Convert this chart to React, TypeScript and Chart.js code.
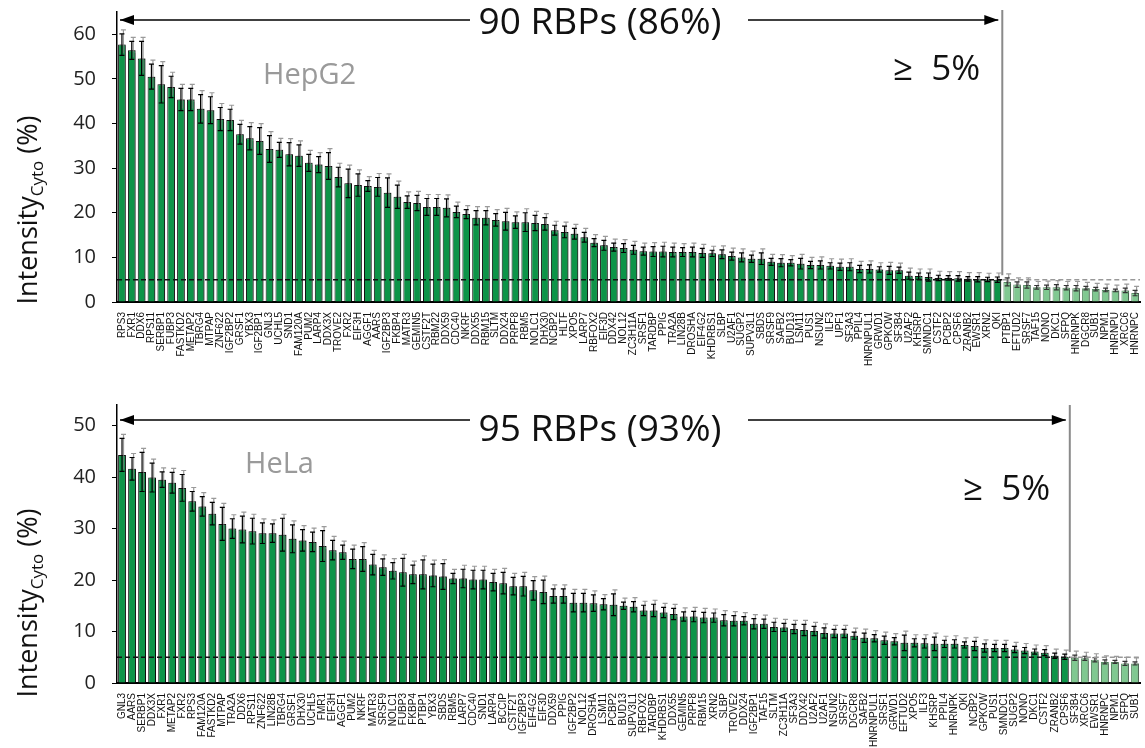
import React, { useEffect, useRef } from "react";
import { Chart, registerables } from "chart.js";
Chart.register(...registerables);

// ---------------- DATA ----------------
const hepg2Labels = [
  "RPS3","FXR1","DDX6","RPS11","SERBP1","FUBP3","FASTKD2","METAP2","TBRG4","MTPAP",
  "ZNF622","IGF2BP2","GRSF1","YBX3","IGF2BP1","GNL3","UCHL5","SND1","FAM120A","PUM2",
  "LARP4","DDX3X","TROVE2","FXR2","EIF3H","AGGF1","AARS","IGF2BP3","FKBP4","MATR3",
  "GEMIN5","CSTF2T","RBM22","DDX59","CDC40","NKRF","DDX55","RBM15","SLTM","DDX24",
  "PRPF8","RBM5","NOLC1","DHX30","NCBP2","HLTF","XPO5","LARP7","RBFOX2","EIF3D",
  "DDX42","NOL12","ZC3H11A","SRSF1","TARDBP","PPIG","TRA2A","LIN28B","DROSHA","EIF4G2",
  "KHDRBS1","SLBP","U2AF1","SUGP2","SUPV3L1","SBDS","SRSF9","SAFB2","BUD13","LSM11",
  "PUS1","NSUN2","ILF3","UPF1","SF3A3","PPIL4","HNRNPUL1","GRWD1","GPKOW","SF3B4",
  "U2AF2","KHSRP","SMNDC1","CSTF2","PCBP2","CPSF6","ZRANB2","EWSR1","XRN2","QKI",
  "PTBP1","EFTUD2","SRSF7","TAF15","NONO","DKC1","SFPQ","HNRNPK","DGCR8","SUB1",
  "NPM1","HNRNPU","XRCC6","HNRNPC"
];
const hepg2Values = [
  57.7,56.4,54.6,50.5,48.8,48.2,45.4,45.4,43.3,43.0,
  41.0,40.8,37.6,36.7,36.1,34.3,34.1,33.1,32.8,31.2,
  30.8,30.5,28.0,26.6,26.2,26.0,25.8,24.5,23.6,22.4,
  22.2,21.3,21.3,21.1,20.2,19.7,18.9,18.9,18.4,18.1,
  17.9,17.9,17.7,17.5,16.1,15.7,15.3,14.5,13.3,12.7,
  12.3,12.1,11.7,11.4,11.3,11.3,11.2,11.2,11.2,11.0,
  10.9,10.7,10.3,10.0,9.7,9.7,9.0,8.8,8.8,8.6,
  8.3,8.3,8.1,7.9,7.9,7.4,7.4,7.3,7.1,7.1,
  5.9,5.8,5.6,5.4,5.4,5.3,5.2,5.1,5.05,5.0,
  4.5,3.9,3.8,3.3,3.3,3.3,3.2,3.1,3.1,2.9,
  2.7,2.6,2.6,2.0
];
const hepg2Errors = [
  2.4,2.0,3.8,2.8,4.2,2.4,2.5,2.5,3.2,3.0,
  2.6,2.4,2.2,2.6,3.0,3.0,1.7,2.6,2.4,1.9,
  1.8,3.0,2.2,3.2,2.5,1.2,2.1,3.3,2.6,1.4,
  1.7,1.9,1.9,2.0,1.3,1.0,1.6,1.6,1.4,2.0,
  1.4,2.1,1.7,1.4,1.1,1.3,1.2,1.1,0.9,1.1,
  0.9,1.0,1.0,0.9,1.1,1.2,1.1,1.0,1.1,1.0,
  0.7,1.0,0.9,1.0,0.8,1.3,0.8,0.9,0.7,1.2,
  0.8,0.9,0.7,0.8,0.9,0.8,0.9,0.6,0.9,0.7,
  0.8,0.7,0.9,0.6,0.5,0.6,0.5,0.6,0.5,0.6,
  0.9,0.6,0.7,0.4,0.5,0.6,0.5,0.6,0.4,0.4,
  0.4,0.3,0.5,0.6
];

const helaLabels = [
  "GNL3","AARS","SERBP1","DDX3X","FXR1","METAP2","FXR2","RPS3","FAM120A","FASTKD2",
  "MTPAP","TRA2A","DDX6","RPS11","ZNF622","LIN28B","TBRG4","GRSF1","DHX30","UCHL5",
  "FMR1","EIF3H","AGGF1","PUM2","NKRF","MATR3","SRSF9","NOLC1","FUBP3","FKBP4",
  "PTBP1","YBX3","SBDS","RBM5","LARP7","CDC40","SND1","LARP4","BCCIP","CSTF2T",
  "IGF2BP3","EIF4G2","EIF3D","DDX59","PPIG","IGF2BP2","NOL12","DROSHA","LSM11","PCBP2",
  "BUD13","SUPV3L1","RBFOX2","TARDBP","KHDRBS1","DDX55","GEMIN5","PRPF8","RBM15","XRN2",
  "SLBP","TROVE2","DDX24","IGF2BP1","TAF15","SLTM","ZC3H11A","SF3A3","DDX42","U2AF2",
  "U2AF1","NSUN2","SRSF7","DGCR8","SAFB2","HNRNPUL1","SRSF1","GRWD1","EFTUD2","XPO5",
  "ILF3","KHSRP","PPIL4","HNRNPK","QKI","NCBP2","GPKOW","PUS1","SMNDC1","SUGP2",
  "NONO","DKC1","CSTF2","ZRANB2","CPSF6","SF3B4","XRCC6","EWSR1","HNRNPC","NPM1",
  "SFPQ","SUB1"
];
const helaValues = [
  44.3,41.6,41.0,39.9,39.5,38.9,37.9,35.3,34.3,32.9,
  30.9,30.0,29.8,29.5,29.1,29.1,28.8,28.0,27.7,27.4,
  26.6,25.8,25.4,24.1,24.1,23.0,22.5,21.8,21.5,21.1,
  21.1,20.9,20.7,20.3,20.3,20.1,20.1,19.6,19.4,18.8,
  18.8,18.0,17.7,16.9,16.9,15.6,15.6,15.5,15.3,15.2,
  15.0,14.8,14.1,14.1,13.7,13.4,12.9,12.9,12.7,12.7,
  12.2,12.1,12.1,11.5,11.5,10.9,10.8,10.5,10.3,10.1,
  9.7,9.6,9.6,9.2,8.8,8.7,8.3,8.1,7.8,7.8,
  7.7,7.6,7.6,7.6,7.4,7.2,6.8,6.8,6.8,6.5,
  6.3,6.1,5.9,5.3,5.1,4.9,4.8,4.5,4.1,4.1,
  3.8,3.8
];
const helaErrors = [
  3.2,2.2,3.8,2.8,1.5,2.0,2.6,1.9,1.9,2.2,
  3.2,1.9,2.6,2.5,2.0,1.8,3.2,2.7,2.1,1.9,
  3.0,1.9,1.4,1.9,2.4,2.0,1.6,1.6,2.7,1.8,
  2.8,2.2,2.5,1.0,1.8,1.8,1.8,1.7,2.1,1.7,
  1.9,1.9,2.3,1.4,1.4,1.8,1.8,1.6,1.1,2.1,
  0.7,1.0,1.0,1.2,1.0,1.1,0.9,1.0,1.0,0.9,
  1.1,1.0,0.8,1.0,0.9,0.9,0.8,0.9,1.1,0.9,
  1.0,0.8,0.8,0.7,0.9,0.7,0.8,0.7,1.5,0.8,
  0.9,1.3,0.7,0.8,0.6,0.9,0.8,0.7,0.7,0.6,
  0.6,0.5,0.6,0.5,0.5,0.5,0.4,0.4,0.4,0.3,
  0.4,0.3
];

const hepg2Ticks = [0, 10, 20, 30, 40, 50, 60];
const helaTicks = [0, 10, 20, 30, 40, 50];
const threshold = 5;
const hepg2AboveCount = 90;
const helaAboveCount = 95;
const hepg2Summary = "90 RBPs (86%)";
const helaSummary = "95 RBPs (93%)";
const thresholdText = "\u2265  5%";

// ---------------- STYLE ----------------
const DARK = "#0d9448";
const LIGHT = "#80c891";
const BIG_FONT = "'Open Sans', 'Noto Sans', sans-serif";

type Panel = {
  labels: string[];
  values: number[];
  errors: number[];
  above: number;
  yMax: number;
  ticks: number[];
  cell: string;
  summary: string;
  padTop: number;
  xHeight: number;
  arrowY: number;
  textY: number;
  cellX: number;
  cellY: number;
  geX: number;
  geY: number;
  titleY: number;
  vTop: number;
};

function makeChart(canvas: HTMLCanvasElement, p: Panel) {
  const bg = p.values.map((_, i) => (i < p.above ? DARK : LIGHT));
  const bc = p.values.map((_, i) => (i < p.above ? "#111" : "#5b8a66"));

  const decor = {
    id: "decor",
    beforeDatasetsDraw(chart: any) {
      const ctx = chart.ctx;
      ctx.save();
      ctx.shadowColor = "rgba(0,0,0,0.38)";
      ctx.shadowOffsetX = 2;
      ctx.shadowOffsetY = -1;
      ctx.shadowBlur = 1;
    },
    afterDatasetsDraw(chart: any) {
      const ctx = chart.ctx;
      ctx.restore();
      const xs = chart.scales.x;
      const ys = chart.scales.y;
      const area = chart.chartArea;
      const meta = chart.getDatasetMeta(0);

      // error bars
      p.values.forEach((v, i) => {
        const el = meta.data[i];
        const x = el.x;
        const e = p.errors[i];
        const yTop = ys.getPixelForValue(v + e);
        const yBot = ys.getPixelForValue(v - e);
        const light = i >= p.above;
        ctx.save();
        ctx.strokeStyle = "rgba(120,120,120,0.75)";
        ctx.lineWidth = 1.2;
        ctx.beginPath();
        ctx.moveTo(x + 1.5, yBot - 2);
        ctx.lineTo(x + 1.5, yTop - 4);
        ctx.moveTo(x - 1, yTop - 4);
        ctx.lineTo(x + 4, yTop - 4);
        ctx.stroke();
        ctx.strokeStyle = light ? "#333" : "#000";
        ctx.lineWidth = 1.2;
        ctx.beginPath();
        ctx.moveTo(x, yBot);
        ctx.lineTo(x, yTop);
        ctx.moveTo(x - 2.5, yTop);
        ctx.lineTo(x + 2.5, yTop);
        ctx.moveTo(x - 2.5, yBot);
        ctx.lineTo(x + 2.5, yBot);
        ctx.stroke();
        ctx.restore();
      });

      const boundary =
        (xs.getPixelForValue(p.above - 1) + xs.getPixelForValue(p.above)) / 2;

      // dashed threshold line
      const yT = ys.getPixelForValue(threshold);
      ctx.save();
      ctx.setLineDash([5, 3]);
      ctx.lineWidth = 1.4;
      ctx.strokeStyle = "#111";
      ctx.beginPath();
      ctx.moveTo(area.left, yT);
      ctx.lineTo(boundary, yT);
      ctx.stroke();
      ctx.strokeStyle = "#999";
      ctx.beginPath();
      ctx.moveTo(boundary, yT);
      ctx.lineTo(area.right, yT);
      ctx.stroke();
      ctx.restore();

      // vertical separator
      ctx.save();
      ctx.strokeStyle = "#8a8a8a";
      ctx.lineWidth = 2;
      ctx.beginPath();
      ctx.moveTo(boundary, p.vTop);
      ctx.lineTo(boundary, ys.getPixelForValue(6));
      ctx.stroke();
      ctx.restore();

      // arrows
      const drawArrow = (x1: number, x2: number, tipLeft: boolean) => {
        ctx.save();
        ctx.strokeStyle = "#000";
        ctx.fillStyle = "#000";
        ctx.lineWidth = 1.6;
        ctx.beginPath();
        ctx.moveTo(x1, p.arrowY);
        ctx.lineTo(x2, p.arrowY);
        ctx.stroke();
        const tx = tipLeft ? x1 : x2;
        const d = tipLeft ? 1 : -1;
        ctx.beginPath();
        ctx.moveTo(tx, p.arrowY);
        ctx.lineTo(tx + d * 14, p.arrowY - 5);
        ctx.lineTo(tx + d * 14, p.arrowY + 5);
        ctx.closePath();
        ctx.fill();
        ctx.restore();
      };
      drawArrow(area.left + 3, 470, true);
      drawArrow(748, boundary - 4, false);

      ctx.save();
      ctx.fillStyle = "#111";
      ctx.font = `37px ${BIG_FONT}`;
      ctx.textAlign = "center";
      ctx.textBaseline = "middle";
      ctx.fillText(p.summary, 600, p.textY);
      ctx.textAlign = "left";
      ctx.font = `35px ${BIG_FONT}`;
      ctx.fillText(thresholdText, p.geX, p.geY);
      ctx.fillStyle = "#9a9a9a";
      ctx.font = `29px ${BIG_FONT}`;
      ctx.fillText(p.cell, p.cellX, p.cellY);
      ctx.restore();

      // y axis title with subscript
      ctx.save();
      ctx.translate(37, p.titleY);
      ctx.rotate(-Math.PI / 2);
      ctx.fillStyle = "#111";
      ctx.textBaseline = "alphabetic";
      ctx.textAlign = "left";
      const mainFont = `27px ${BIG_FONT}`;
      const subFont = `17px ${BIG_FONT}`;
      ctx.font = mainFont;
      const w1 = ctx.measureText("Intensity").width;
      const w3 = ctx.measureText(" (%)").width;
      ctx.font = subFont;
      const w2 = ctx.measureText("Cyto").width;
      let sx = -(w1 + w2 + w3) / 2;
      ctx.font = mainFont;
      ctx.fillText("Intensity", sx, 0);
      sx += w1;
      ctx.font = subFont;
      ctx.fillText("Cyto", sx, 6);
      sx += w2;
      ctx.font = mainFont;
      ctx.fillText(" (%)", sx, 0);
      ctx.restore();
    },
  };

  return new Chart(canvas, {
    type: "bar",
    data: {
      labels: p.labels,
      datasets: [
        {
          data: p.values,
          backgroundColor: bg,
          borderColor: bc,
          borderWidth: 1,
          barPercentage: 0.78,
          categoryPercentage: 1,
        },
      ],
    },
    options: {
      animation: false,
      responsive: false,
      maintainAspectRatio: false,
      layout: { padding: { left: 0, right: 5, top: p.padTop, bottom: 0 } },
      plugins: { legend: { display: false }, tooltip: { enabled: false } },
      scales: {
        x: {
          grid: { display: false },
          border: { display: true, color: "#000", width: 2 },
          ticks: {
            autoSkip: false,
            minRotation: 90,
            maxRotation: 90,
            padding: 2,
            color: "#111",
            font: { family: "'Liberation Sans', Arial, sans-serif", size: 10 },
          },
          afterFit: (s: any) => {
            s.height = p.xHeight;
            s.paddingLeft = 0;
            s.paddingRight = 0;
          },
        },
        y: {
          min: 0,
          max: p.yMax,
          grid: {
            display: true,
            drawOnChartArea: false,
            drawTicks: true,
            tickLength: 5,
            color: "#000",
          },
          border: { display: true, color: "#000", width: 1.5 },
          ticks: {
            padding: 16,
            color: "#222",
            font: { family: BIG_FONT, size: 20 },
          },
          afterBuildTicks: (s: any) => {
            s.ticks = p.ticks.map((v) => ({ value: v }));
          },
          afterFit: (s: any) => {
            s.width = 117;
            s.paddingTop = 0;
            s.paddingBottom = 0;
          },
        },
      },
    },
    plugins: [decor],
  } as any);
}

function PanelCanvas(props: { panel: Panel; top: number; height: number }) {
  const ref = useRef<HTMLCanvasElement>(null);
  useEffect(() => {
    if (!ref.current) return;
    const c = makeChart(ref.current, props.panel);
    return () => c.destroy();
  }, []);
  return (
    <canvas
      ref={ref}
      width={1145}
      height={props.height}
      style={{ position: "absolute", left: 0, top: props.top, width: 1145, height: props.height }}
    />
  );
}

const topPanel: Panel = {
  labels: hepg2Labels,
  values: hepg2Values,
  errors: hepg2Errors,
  above: hepg2AboveCount,
  yMax: 65,
  ticks: hepg2Ticks,
  cell: "HepG2",
  summary: hepg2Summary,
  padTop: 12,
  xHeight: 76,
  arrowY: 20,
  textY: 23,
  cellX: 263,
  cellY: 76,
  geX: 893,
  geY: 70,
  titleY: 210,
  vTop: 10,
};

const bottomPanel: Panel = {
  labels: helaLabels,
  values: helaValues,
  errors: helaErrors,
  above: helaAboveCount,
  yMax: 54,
  ticks: helaTicks,
  cell: "HeLa",
  summary: helaSummary,
  padTop: 20,
  xHeight: 65,
  arrowY: 35,
  textY: 45,
  cellX: 245,
  cellY: 80,
  geX: 963,
  geY: 105,
  titleY: 218,
  vTop: 20,
};

export default function App() {
  return (
    <div style={{ position: "absolute", left: 0, top: 0, width: 1145, height: 748, background: "#fff", overflow: "hidden" }}>
      <PanelCanvas panel={topPanel} top={0} height={378} />
      <PanelCanvas panel={bottomPanel} top={385} height={363} />
    </div>
  );
}
